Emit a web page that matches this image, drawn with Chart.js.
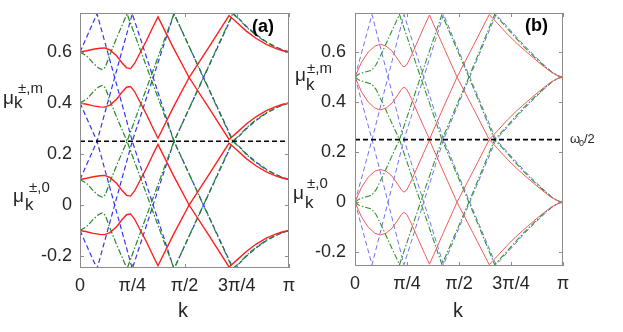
<!DOCTYPE html>
<html><head><meta charset="utf-8">
<script src="https://cdn.jsdelivr.net/npm/chart.js@4/dist/chart.umd.min.js"></script>
<style>
html,body{margin:0;padding:0;background:#fff;}
#wrap{position:relative;width:623px;height:332px;overflow:hidden;background:#fff;}
canvas{position:absolute;top:0;}
</style></head><body>
<div id="wrap">
<canvas id="ca" width="302" height="332" style="left:0px"></canvas>
<canvas id="cb" width="331" height="332" style="left:292px"></canvas>
</div>
<script>
const PI = Math.PI;
const FONT = '"Liberation Sans", Arial, Helvetica, sans-serif';
const xTickValues = [0, PI/4, PI/2, 3*PI/4, PI];
const xTickLabels = ['0', 'π/4', 'π/2', '3π/4', 'π'];
const yTickValues = [-0.2, 0, 0.2, 0.4, 0.6];
const yTickLabels = ['-0.2', '0', '0.2', '0.4', '0.6'];
const halfOmegaK = [0, 3.1416];
const halfOmegaMu = [0.25, 0.25];

// ---------- panel (a) ----------
const kRedA = [0, 0.1, 0.2, 0.3, 0.37, 0.45, 0.55, 0.63, 0.70, 0.76, 0.82, 0.90, 1.00, 1.10, 1.172, 1.40, 1.64, 1.94, 2.24, 2.35, 2.50, 2.65, 2.80, 2.95, 3.05, 3.1416];
const redA_p0 = [0.100, 0.105, 0.111, 0.115, 0.116, 0.108, 0.085, 0.058, 0.038, 0.035, 0.055, 0.095, 0.145, 0.200, 0.238, 0.118, 0.000, -0.120, -0.243, -0.218, -0.182, -0.153, -0.130, -0.113, -0.105, -0.100];
const redA_m0 = [-0.100, -0.105, -0.111, -0.115, -0.116, -0.108, -0.085, -0.058, -0.038, -0.035, -0.055, -0.095, -0.145, -0.200, -0.238, -0.118, 0.000, 0.120, 0.243, 0.218, 0.182, 0.153, 0.130, 0.113, 0.105, 0.100];
const redA_p1 = [0.600, 0.605, 0.611, 0.615, 0.616, 0.608, 0.585, 0.558, 0.538, 0.535, 0.555, 0.595, 0.645, 0.700, 0.738, 0.618, 0.500, 0.380, 0.257, 0.282, 0.318, 0.347, 0.370, 0.387, 0.395, 0.400];
const redA_m1 = [0.400, 0.395, 0.389, 0.385, 0.384, 0.392, 0.415, 0.442, 0.462, 0.465, 0.445, 0.405, 0.355, 0.300, 0.262, 0.382, 0.500, 0.620, 0.743, 0.718, 0.682, 0.653, 0.630, 0.613, 0.605, 0.600];

const kGreenA = [0, 0.1, 0.2, 0.28, 0.331, 0.38, 0.45, 0.55, 0.63, 0.707, 1.06, 1.413, 1.854, 2.295, 2.40, 2.50, 2.65, 2.80, 2.95, 3.05, 3.1416];
const greenA_p0 = [0.100, 0.085, 0.056, 0.037, 0.031, 0.040, 0.090, 0.155, 0.203, 0.250, 0.000, -0.250, 0.000, 0.250, 0.226, 0.198, 0.165, 0.138, 0.118, 0.107, 0.100];
const greenA_m0 = [-0.100, -0.085, -0.056, -0.037, -0.031, -0.040, -0.090, -0.155, -0.203, -0.250, 0.000, 0.250, 0.000, -0.250, -0.226, -0.198, -0.165, -0.138, -0.118, -0.107, -0.100];
const greenA_p1 = [0.600, 0.585, 0.556, 0.537, 0.531, 0.540, 0.590, 0.655, 0.703, 0.750, 0.500, 0.250, 0.500, 0.750, 0.726, 0.698, 0.665, 0.638, 0.618, 0.607, 0.600];
const greenA_m1 = [0.400, 0.415, 0.444, 0.463, 0.469, 0.460, 0.410, 0.345, 0.297, 0.250, 0.500, 0.750, 0.500, 0.250, 0.274, 0.302, 0.335, 0.362, 0.382, 0.393, 0.400];

const kBlueA = [0, 0.256, 0.786, 1.413, 2.304, 2.40, 2.50, 2.65, 2.80, 2.95, 3.05, 3.1416];
const blueA_p0 = [0.100, 0.250, -0.250, 0.250, -0.250, -0.228, -0.201, -0.168, -0.140, -0.119, -0.108, -0.100];
const blueA_m0 = [-0.100, -0.250, 0.250, -0.250, 0.250, 0.228, 0.201, 0.168, 0.140, 0.119, 0.108, 0.100];
const blueA_p1 = [0.600, 0.750, 0.250, 0.750, 0.250, 0.272, 0.299, 0.332, 0.360, 0.381, 0.392, 0.400];
const blueA_m1 = [0.400, 0.250, 0.750, 0.250, 0.750, 0.728, 0.701, 0.668, 0.640, 0.619, 0.608, 0.600];

// ---------- panel (b) ----------
const kRedB = [0, 0.05, 0.10, 0.20, 0.30, 0.383, 0.47, 0.56, 0.65, 0.70, 0.736, 0.78, 0.85, 0.95, 1.05, 1.125, 1.33, 1.541, 1.78, 2.028, 2.15, 2.30, 2.45, 2.60, 2.75, 2.90, 3.00, 3.08, 3.1416];
const redB_p0 = [0.000, 0.030, 0.060, 0.100, 0.124, 0.131, 0.124, 0.104, 0.070, 0.050, 0.040, 0.048, 0.085, 0.145, 0.205, 0.248, 0.125, 0.000, -0.122, -0.250, -0.215, -0.172, -0.133, -0.098, -0.064, -0.032, -0.014, -0.004, 0.000];
const redB_m0 = [0.000, -0.030, -0.060, -0.100, -0.124, -0.131, -0.124, -0.104, -0.070, -0.050, -0.040, -0.048, -0.085, -0.145, -0.205, -0.248, -0.125, 0.000, 0.122, 0.250, 0.215, 0.172, 0.133, 0.098, 0.064, 0.032, 0.014, 0.004, 0.000];
const redB_p1 = [0.500, 0.530, 0.560, 0.600, 0.624, 0.631, 0.624, 0.604, 0.570, 0.550, 0.540, 0.548, 0.585, 0.645, 0.705, 0.748, 0.625, 0.500, 0.378, 0.250, 0.285, 0.328, 0.367, 0.402, 0.436, 0.468, 0.486, 0.496, 0.500];
const redB_m1 = [0.500, 0.470, 0.440, 0.400, 0.376, 0.369, 0.376, 0.396, 0.430, 0.450, 0.460, 0.452, 0.415, 0.355, 0.295, 0.252, 0.375, 0.500, 0.622, 0.750, 0.715, 0.672, 0.633, 0.598, 0.564, 0.532, 0.514, 0.504, 0.500];

const kGreenB = [0, 0.06, 0.15, 0.25, 0.32, 0.42, 0.55, 0.672, 0.99, 1.314, 1.72, 2.11, 2.25, 2.40, 2.55, 2.70, 2.85, 2.97, 3.06, 3.1416];
const greenB_p0 = [0.000, 0.012, 0.020, 0.027, 0.050, 0.105, 0.180, 0.250, 0.000, -0.250, 0.000, 0.250, 0.210, 0.165, 0.122, 0.083, 0.046, 0.020, 0.005, 0.000];
const greenB_m0 = [0.000, -0.012, -0.020, -0.027, -0.050, -0.105, -0.180, -0.250, 0.000, 0.250, 0.000, -0.250, -0.210, -0.165, -0.122, -0.083, -0.046, -0.020, -0.005, 0.000];
const greenB_p1 = [0.500, 0.512, 0.520, 0.527, 0.550, 0.605, 0.680, 0.750, 0.500, 0.250, 0.500, 0.750, 0.710, 0.665, 0.622, 0.583, 0.546, 0.520, 0.505, 0.500];
const greenB_m1 = [0.500, 0.488, 0.480, 0.473, 0.450, 0.395, 0.320, 0.250, 0.500, 0.750, 0.500, 0.250, 0.290, 0.335, 0.378, 0.417, 0.454, 0.480, 0.495, 0.500];

const kBlueB = [0, 0.257, 0.74, 1.337, 2.13, 2.25, 2.40, 2.55, 2.70, 2.85, 2.97, 3.06, 3.1416];
const blueB_p0 = [0.000, 0.250, -0.250, 0.250, -0.250, -0.216, -0.172, -0.128, -0.088, -0.050, -0.022, -0.006, 0.000];
const blueB_m0 = [0.000, -0.250, 0.250, -0.250, 0.250, 0.216, 0.172, 0.128, 0.088, 0.050, 0.022, 0.006, 0.000];
const blueB_p1 = [0.500, 0.750, 0.250, 0.750, 0.250, 0.284, 0.328, 0.372, 0.412, 0.450, 0.478, 0.494, 0.500];
const blueB_m1 = [0.500, 0.250, 0.750, 0.250, 0.750, 0.716, 0.672, 0.628, 0.588, 0.550, 0.522, 0.506, 0.500];

function curve(k, mu, color, width, dash, order) {
  return {
    data: k.map((x, i) => ({x: x, y: mu[i]})),
    showLine: true, pointRadius: 0, borderColor: color, backgroundColor: color,
    borderWidth: width, borderDash: dash, fill: false, tension: 0, order: order
  };
}

function framePlugin(texts) {
  return {
    id: 'frame',
    afterDraw(chart) {
      const ctx = chart.ctx, a = chart.chartArea, xs = chart.scales.x, ys = chart.scales.y;
      ctx.save();
      ctx.strokeStyle = '#8c8c8c'; ctx.lineWidth = 1; ctx.setLineDash([]);
      ctx.strokeRect(a.left + 0.5, a.top + 0.5, a.right - a.left - 1, a.bottom - a.top - 1);
      ctx.beginPath();
      for (const v of xTickValues) {
        const px = Math.round(xs.getPixelForValue(v)) + 0.5;
        ctx.moveTo(px, a.bottom); ctx.lineTo(px, a.bottom - 4);
        ctx.moveTo(px, a.top); ctx.lineTo(px, a.top + 4);
      }
      for (const v of yTickValues) {
        const py = Math.round(ys.getPixelForValue(v)) + 0.5;
        ctx.moveTo(a.left, py); ctx.lineTo(a.left + 4, py);
        ctx.moveTo(a.right, py); ctx.lineTo(a.right - 4, py);
      }
      ctx.stroke();
      for (const t of texts) {
        ctx.font = t.font; ctx.fillStyle = t.color || '#262626';
        ctx.textAlign = t.align || 'left'; ctx.textBaseline = 'alphabetic';
        ctx.fillText(t.text, t.x, t.y);
      }
      ctx.restore();
    }
  };
}

function makeChart(id, sets, cfg) {
  const style = cfg.style;
  const datasets = [
    curve(halfOmegaK, halfOmegaMu, '#000000', 1.6, [5, 3], 0),
    curve(sets.kr, sets.r[0], style.red, style.rw, [], 1),
    curve(sets.kr, sets.r[1], style.red, style.rw, [], 1),
    curve(sets.kr, sets.r[2], style.red, style.rw, [], 1),
    curve(sets.kr, sets.r[3], style.red, style.rw, [], 1),
    curve(sets.kg, sets.g[0], style.green, style.gw, [6, 2, 1.5, 2], 2),
    curve(sets.kg, sets.g[1], style.green, style.gw, [6, 2, 1.5, 2], 2),
    curve(sets.kg, sets.g[2], style.green, style.gw, [6, 2, 1.5, 2], 2),
    curve(sets.kg, sets.g[3], style.green, style.gw, [6, 2, 1.5, 2], 2),
    curve(sets.kb, sets.b[0], style.blue, style.bw, [5, 3], 3),
    curve(sets.kb, sets.b[1], style.blue, style.bw, [5, 3], 3),
    curve(sets.kb, sets.b[2], style.blue, style.bw, [5, 3], 3),
    curve(sets.kb, sets.b[3], style.blue, style.bw, [5, 3], 3)
  ];
  return new Chart(document.getElementById(id), {
    type: 'scatter',
    data: {datasets: datasets},
    options: {
      responsive: false, animation: false, devicePixelRatio: 1,
      layout: {padding: {top: cfg.top, right: cfg.right, left: 0, bottom: 0}},
      plugins: {legend: {display: false}, tooltip: {enabled: false}},
      scales: {
        x: {
          type: 'linear', min: 0, max: PI,
          afterBuildTicks: s => { s.ticks = xTickValues.map(v => ({value: v})); },
          afterFit: s => { s.height = cfg.xh; s.paddingLeft = 0; s.paddingRight = 0; s.paddingTop = 0; s.paddingBottom = 0; },
          grid: {display: false, drawTicks: false}, border: {display: false},
          ticks: {callback: (v, i) => xTickLabels[i], font: {family: FONT, size: 18}, color: '#262626', padding: 7, maxRotation: 0, autoSkip: false}
        },
        y: {
          type: 'linear', min: cfg.ymin, max: cfg.ymax,
          afterBuildTicks: s => { s.ticks = yTickValues.map(v => ({value: v})); },
          afterFit: s => { s.width = cfg.yw; s.paddingTop = 0; s.paddingBottom = 0; s.paddingLeft = 0; s.paddingRight = 0; },
          grid: {display: false, drawTicks: false}, border: {display: false},
          ticks: {callback: (v, i) => yTickLabels[i], font: {family: FONT, size: 18}, color: '#262626', padding: cfg.ypad, autoSkip: false}
        }
      }
    },
    plugins: [framePlugin(cfg.texts)]
  });
}

makeChart('ca', {
  kr: kRedA, r: [redA_p0, redA_m0, redA_p1, redA_m1],
  kg: kGreenA, g: [greenA_p0, greenA_m0, greenA_p1, greenA_m1],
  kb: kBlueA, b: [blueA_p0, blueA_m0, blueA_p1, blueA_m1]
}, {
  style: {red: '#ff1f1f', rw: 1.4, green: '#1f8a1f', gw: 1.2, blue: '#3535ee', bw: 1.2},
  top: 13, right: 13, xh: 64, yw: 80, ypad: 8, ymin: -0.247, ymax: 0.753,
  texts: [
    {text: 'μ', x: 3, y: 104, font: '19px ' + FONT},
    {text: '±,m', x: 18, y: 93, font: '15px ' + FONT},
    {text: 'k', x: 14, y: 108, font: '17px ' + FONT},
    {text: 'μ', x: 13, y: 202, font: '19px ' + FONT},
    {text: '±,0', x: 29, y: 192, font: '15px ' + FONT},
    {text: 'k', x: 25, y: 210, font: '17px ' + FONT},
    {text: '(a)', x: 252, y: 32, font: 'bold 18px ' + FONT, color: '#000'},
    {text: 'k', x: 183, y: 317, font: '20px ' + FONT, align: 'center'}
  ]
});

makeChart('cb', {
  kr: kRedB, r: [redB_p0, redB_m0, redB_p1, redB_m1],
  kg: kGreenB, g: [greenB_p0, greenB_m0, greenB_p1, greenB_m1],
  kb: kBlueB, b: [blueB_p0, blueB_m0, blueB_p1, blueB_m1]
}, {
  style: {red: '#f25a5a', rw: 1.0, green: '#2a962a', gw: 1.1, blue: '#7272f0', bw: 1.0},
  top: 13, right: 60, xh: 66, yw: 63, ypad: 9, ymin: -0.255, ymax: 0.756,
  texts: [
    {text: 'μ', x: 3, y: 81, font: '19px ' + FONT},
    {text: '±,m', x: 15, y: 73, font: '15px ' + FONT},
    {text: 'k', x: 14, y: 90, font: '17px ' + FONT},
    {text: 'μ', x: 1, y: 199, font: '19px ' + FONT},
    {text: '±,0', x: 15, y: 188, font: '15px ' + FONT},
    {text: 'k', x: 13, y: 208, font: '17px ' + FONT},
    {text: '(b)', x: 233, y: 31, font: 'bold 18px ' + FONT, color: '#000'},
    {text: 'k', x: 166, y: 317, font: '20px ' + FONT, align: 'center'},
    {text: 'ω', x: 278, y: 143, font: '13px ' + FONT},
    {text: '0', x: 287, y: 146, font: '9px ' + FONT},
    {text: '/2', x: 292, y: 143, font: '13px ' + FONT}
  ]
});
</script>
</body></html>
